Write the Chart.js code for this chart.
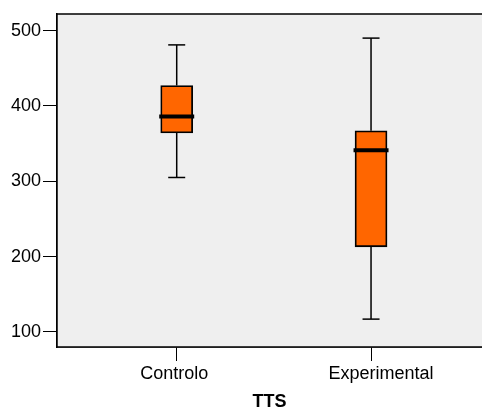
<!DOCTYPE html>
<html>
<head>
<meta charset="utf-8">
<script src="https://cdn.jsdelivr.net/npm/chart.js@4"></script>
<style>
  html, body { margin: 0; padding: 0; background: #ffffff; }
  canvas { display: block; }
</style>
</head>
<body>
<canvas id="chart" width="482" height="409"></canvas>
<script>
// Box-plot summaries per group
const categories   = ['Controlo', 'Experimental'];
const whiskerLow   = [305, 117];
const quartile1    = [364, 213];
const medianValues = [386, 341];
const quartile3    = [427, 367];
const whiskerHigh  = [481, 490];
const yTicks       = [100, 200, 300, 400, 500];
const axisTitle    = 'TTS';

// Category i sits at x = i + 1 on a linear axis
const pos = i => i + 1;

const boxData = categories.map((c, i) => ({ x: pos(i), y: [quartile1[i], quartile3[i]] }));
const medianData = categories.map((c, i) => ({ x: pos(i), y: medianValues[i] }));
const capData = [];
const whiskerData = [];
categories.forEach((c, i) => {
  capData.push({ x: pos(i), y: whiskerLow[i] }, { x: pos(i), y: whiskerHigh[i] });
  whiskerData.push(
    { x: pos(i), y: quartile3[i] }, { x: pos(i), y: whiskerHigh[i] }, { x: pos(i), y: null },
    { x: pos(i), y: whiskerLow[i] }, { x: pos(i), y: quartile1[i] }, { x: pos(i), y: null }
  );
});

// Grey plot panel with a black frame
const panel = {
  id: 'panel',
  beforeDatasetsDraw(chart) {
    const a = chart.chartArea, ctx = chart.ctx;
    ctx.save();
    ctx.fillStyle = '#efefef';
    ctx.fillRect(a.left, a.top, a.right - a.left, a.bottom - a.top);
    ctx.strokeStyle = '#000';
    ctx.lineWidth = 1.5;
    ctx.strokeRect(a.left, a.top, a.right - a.left + 2, a.bottom - a.top);
    ctx.restore();
  }
};

// Scales keep no extra edge padding for their end labels
const noEdgePadding = s => {
  s.paddingLeft = 0; s.paddingRight = 0; s.paddingTop = 0; s.paddingBottom = 0;
};

// Category labels sit slightly off their tick marks (padded with spaces)
const tickLabel = v => v === 1 ? categories[0] + ' ' : '    ' + categories[1];

const font = { family: '"Liberation Sans", Arial, sans-serif', size: 18 };

new Chart(document.getElementById('chart'), {
  type: 'bar',
  data: {
    datasets: [
      {
        type: 'scatter', data: medianData,
        pointStyle: 'line', radius: 17.5, borderWidth: 4,
        borderColor: '#000', backgroundColor: '#000'
      },
      {
        type: 'scatter', data: capData,
        pointStyle: 'line', radius: 8.5, borderWidth: 1.5,
        borderColor: '#000', backgroundColor: '#000'
      },
      {
        type: 'line', data: whiskerData, spanGaps: false,
        borderColor: '#000', borderWidth: 1.5, pointRadius: 0, fill: false
      },
      {
        type: 'bar', data: boxData,
        backgroundColor: '#ff6600', borderColor: '#000', borderWidth: 1.8,
        borderSkipped: false, barThickness: 32
      }
    ]
  },
  options: {
    responsive: false,
    animation: false,
    events: [],
    layout: { autoPadding: false, padding: { top: 14, right: 0, left: 0, bottom: 0 } },
    plugins: { legend: { display: false }, tooltip: { enabled: false } },
    scales: {
      x: {
        type: 'linear', offset: false,
        min: 0.384, max: 2.571,
        afterBuildTicks: s => { s.ticks = categories.map((c, i) => ({ value: pos(i) })); },
        afterFit: s => { s.height = 62; noEdgePadding(s); },
        ticks: {
          callback: tickLabel,
          color: '#000', font: font, padding: 2, maxRotation: 0, autoSkip: false
        },
        grid: { offset: false, drawOnChartArea: false, drawTicks: true, tickLength: 14, color: '#000', lineWidth: 1 },
        border: { display: true, color: '#000', width: 1.5 },
        title: {
          display: true, text: axisTitle, color: '#000',
          font: Object.assign({}, font, { weight: 'bold' }),
          padding: { top: 4, bottom: -4 }
        }
      },
      y: {
        min: 80, max: 522,
        afterBuildTicks: s => { s.ticks = yTicks.map(v => ({ value: v })); },
        afterFit: s => { s.width = 57; noEdgePadding(s); },
        ticks: { color: '#000', font: font, padding: 2 },
        grid: { drawOnChartArea: false, drawTicks: true, tickLength: 14, color: '#000', lineWidth: 1 },
        border: { display: true, color: '#000', width: 1.5 }
      }
    }
  },
  plugins: [panel]
});
</script>
</body>
</html>
